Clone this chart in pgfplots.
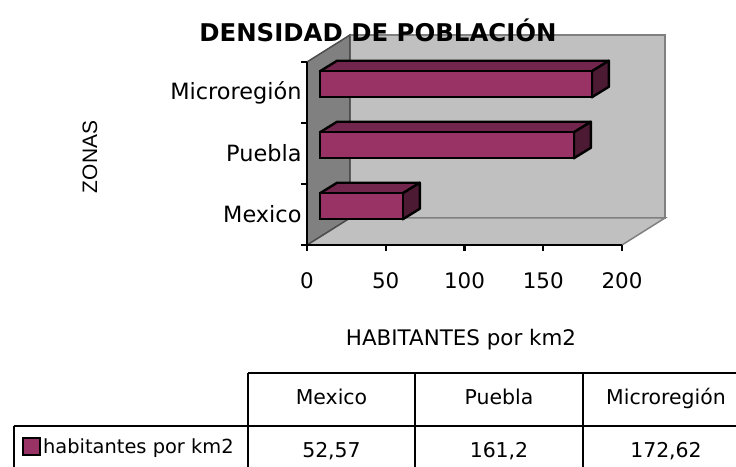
\documentclass[border=0pt]{standalone}
\usepackage{fontspec}
\setmainfont{DejaVu Sans}
\newfontfamily\arialfont{Liberation Sans}
\usepackage{pgfplots}
\pgfplotsset{compat=1.18}

\definecolor{barfront}{HTML}{993366}
\definecolor{bartop}{HTML}{73264D}
\definecolor{barside}{HTML}{4D1A33}
\definecolor{wallback}{HTML}{C0C0C0}
\definecolor{wallleft}{HTML}{808080}

\newcommand{\fs}[1]{\fontsize{#1}{#1}\selectfont}

\begin{document}
\begin{tikzpicture}[x=1bp,y=1bp]
\useasboundingbox (-307,-222) rectangle (429,245);
\begin{axis}[
  at={(0,0)}, anchor=south west,
  x=1.575bp, y=61bp,
  xmin=0, xmax=200, ymin=0.5, ymax=3.5,
  clip=false, axis on top, no markers,
  axis x line*=bottom, axis y line*=left,
  axis line style={black, line width=2.2bp, -},
  tick align=outside, major tick length=6bp,
  tick style={black, line width=2.2bp},
  xtick={0,50,100,150,200},
  ytick={0.5,1.5,2.5,3.5}, yticklabels={},
  extra y ticks={1,2,3},
  extra y tick labels={Mexico,Puebla,Microregión},
  extra y tick style={major tick length=0pt},
  /pgf/number format/assume math mode=true,
  xticklabel style={font=\fs{21.5}, yshift=-18bp},
  yticklabel style={font=\fs{22.5}, xshift=-2bp},
  legend style={at={(axis description cs:-0.905,-1.104)}, anchor=west,
    draw=none, fill=none, inner sep=0pt, font=\fs{19.5},
    nodes={inner sep=2bp}},
]
% back wall, floor, side wall
\addplot[fill=wallback, draw=wallleft, line width=1.5bp, forget plot]
  coordinates {(27.3,0.943) (227.3,0.943) (227.3,3.943) (27.3,3.943)} -- cycle;
\addplot[fill=wallback, draw=wallleft, line width=1.5bp, forget plot]
  coordinates {(0,0.5) (200,0.5) (227.3,0.943) (27.3,0.943)} -- cycle;
\addplot[fill=wallleft, draw=black!70, line width=1.5bp, forget plot]
  coordinates {(0,0.5) (0,3.5) (27.3,3.943) (27.3,0.943)} -- cycle;

% top and side faces of the bars
\addplot[fill=bartop, draw=black, line width=2.4bp, line join=round, forget plot]
  coordinates {(8.25,1.348) (60.82,1.348) (71.62,1.520) (19.05,1.520)} -- cycle;
\addplot[fill=barside, draw=black, line width=2.4bp, line join=round, forget plot]
  coordinates {(60.82,0.922) (60.82,1.348) (71.62,1.520) (71.62,1.094)} -- cycle;
\addplot[fill=bartop, draw=black, line width=2.4bp, line join=round, forget plot]
  coordinates {(8.25,2.348) (169.45,2.348) (180.25,2.520) (19.05,2.520)} -- cycle;
\addplot[fill=barside, draw=black, line width=2.4bp, line join=round, forget plot]
  coordinates {(169.45,1.922) (169.45,2.348) (180.25,2.520) (180.25,2.094)} -- cycle;
\addplot[fill=bartop, draw=black, line width=2.4bp, line join=round, forget plot]
  coordinates {(8.25,3.348) (180.87,3.348) (191.67,3.520) (19.05,3.520)} -- cycle;
\addplot[fill=barside, draw=black, line width=2.4bp, line join=round, forget plot]
  coordinates {(180.87,2.922) (180.87,3.348) (191.67,3.520) (191.67,3.094)} -- cycle;

% front faces
\addplot[xbar, bar width=0.426, bar shift=0.135, xshift=13bp,
  fill=barfront, draw=black, line width=2.4bp,
  legend image code/.code={\draw[fill=barfront, draw=black, line width=2bp]
    (0bp,-8bp) rectangle (17bp,9bp);}]
  coordinates {(52.57,1) (161.2,2) (172.62,3)};
\addlegendentry{habitantes por km2}
\end{axis}

\node[font=\bfseries\fs{24.5}] at (71,215) {DENSIDAD DE POBLACIÓN};
\node[font=\arialfont\fs{21}, rotate=90] at (-217,88) {ZONAS};
\node[font=\fs{21.5}] at (154,-95) {HABITANTES por km2};

% data table
\begin{scope}[line width=2.4bp]
\draw (-59,-128) -- (440,-128);
\draw (-293,-181) -- (440,-181);
\draw (-59,-128) -- (-59,-230);
\draw (108,-128) -- (108,-230);
\draw (276,-128) -- (276,-230);
\draw (-293,-181) -- (-293,-230);
\end{scope}
\begin{scope}[font=\fs{20.5}, every node/.style={anchor=base}]
\node at (24.5,-160) {Mexico};
\node at (192,-160) {Puebla};
\node at (359,-160) {Microregión};
\node at (24.5,-213) {52,57};
\node at (192,-213) {161,2};
\node at (359,-213) {172,62};
\end{scope}
\end{tikzpicture}
\end{document}
